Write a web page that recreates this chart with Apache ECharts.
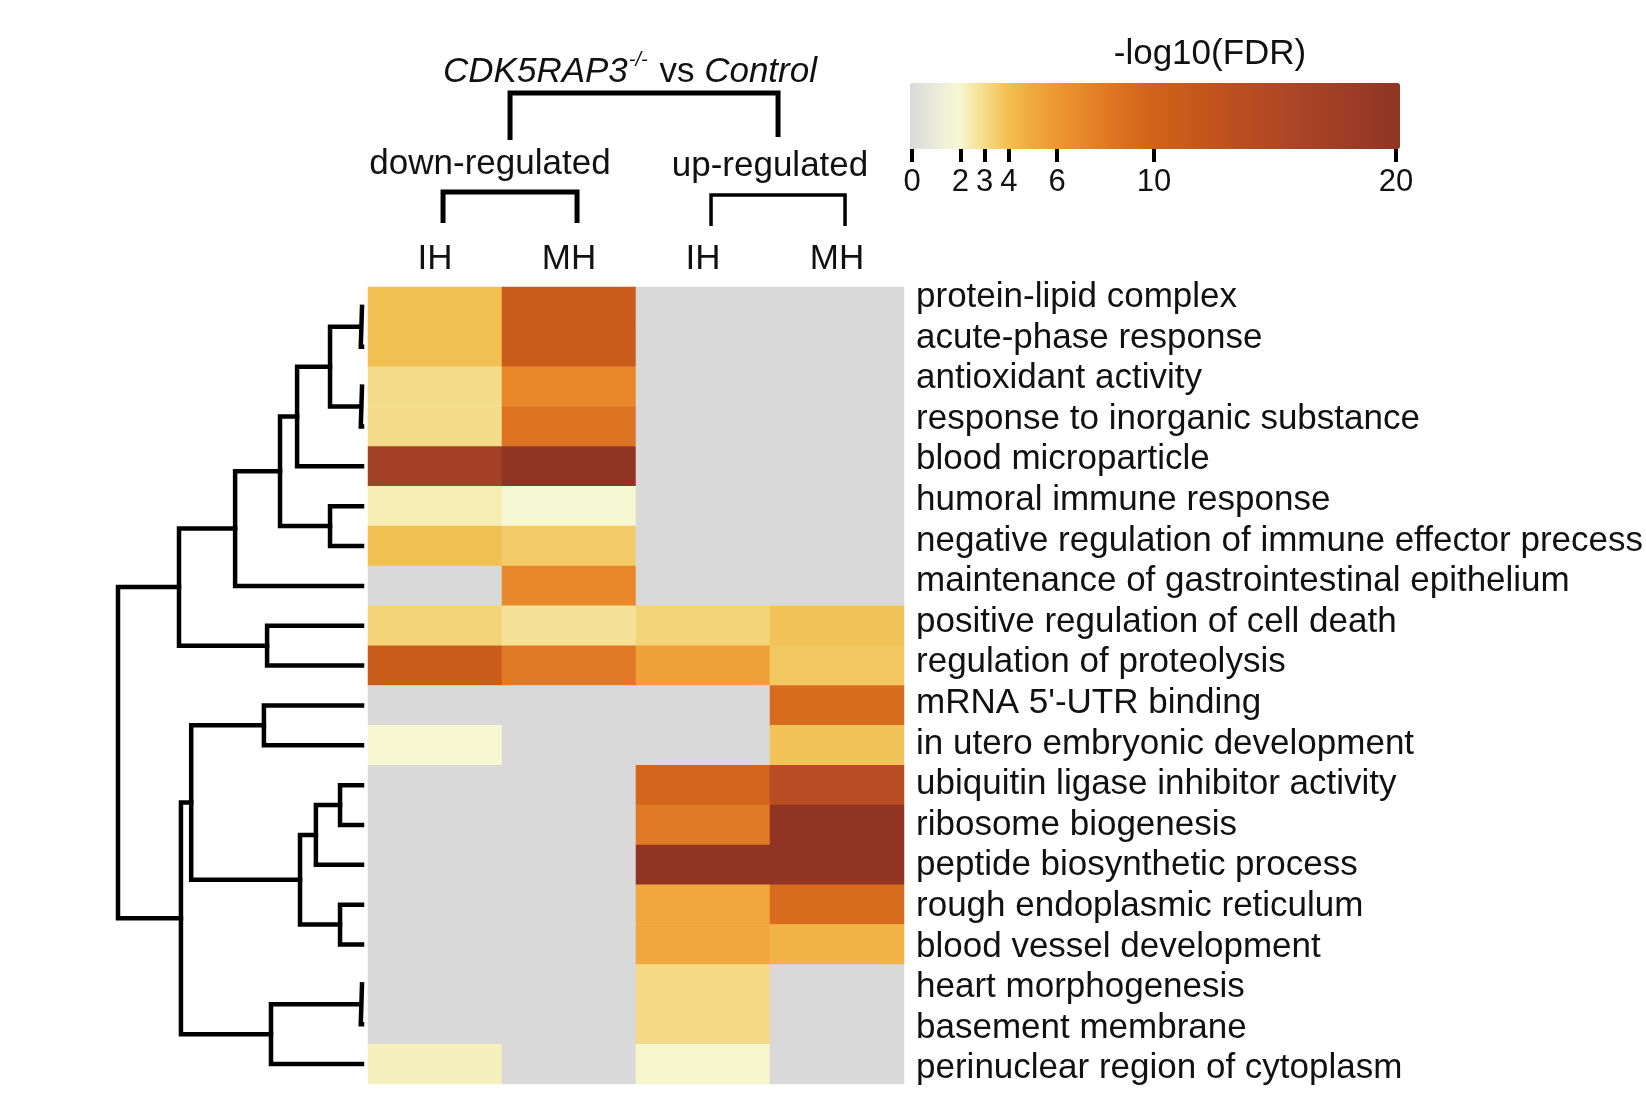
<!DOCTYPE html>
<html>
<head>
<meta charset="utf-8">
<script src="https://cdn.jsdelivr.net/npm/echarts@6/dist/echarts.min.js"></script>
<style>
html,body{margin:0;padding:0;background:#fff;}
#chart{width:1646px;height:1101px;}
</style>
</head>
<body>
<div id="chart"></div>
<script>
// ---------- data ----------
const terms = [
  'protein-lipid complex',
  'acute-phase response',
  'antioxidant activity',
  'response to inorganic substance',
  'blood microparticle',
  'humoral immune response',
  'negative regulation of immune effector precess',
  'maintenance of gastrointestinal epithelium',
  'positive regulation of cell death',
  'regulation of proteolysis',
  "mRNA 5'-UTR binding",
  'in utero embryonic development',
  'ubiquitin ligase inhibitor activity',
  'ribosome biogenesis',
  'peptide biosynthetic process',
  'rough endoplasmic reticulum',
  'blood vessel development',
  'heart morphogenesis',
  'basement membrane',
  'perinuclear region of cytoplasm'
];
const columns = ['IH', 'MH', 'IH', 'MH'];
const groups = ['down-regulated', 'up-regulated'];
const comparisonTitle = ['CDK5RAP3', '-/-', ' vs ', 'Control'];
const colorbarTitle = '-log10(FDR)';
const colorbarTicks = [0, 2, 3, 4, 6, 10, 20];

// -log10(FDR) per column (0 = not enriched)
const downIH = [4, 4, 3, 3, 17, 2.4, 4, 0, 3.3, 11, 0, 2, 0, 0, 0, 0, 0, 0, 0, 2.3];
const downMH = [11, 11, 7, 8.5, 20, 1.9, 3.6, 7, 2.8, 8, 0, 0, 0, 0, 0, 0, 0, 0, 0, 0];
const upIH   = [0, 0, 0, 0, 0, 0, 0, 0, 3.3, 5.5, 0, 0, 9.6, 8, 20, 5, 5, 3.1, 3.1, 2.1];
const upMH   = [0, 0, 0, 0, 0, 0, 0, 0, 3.9, 3.7, 9, 3.9, 14, 20, 20, 9, 4.6, 0, 0, 0];

// row dendrogram merges: children are 'rN' (row) or 'mN' (merge), h = height
const merges = [
  {a: 'r0',  b: 'r1',  h: 0.05},
  {a: 'r2',  b: 'r3',  h: 0.05},
  {a: 'm0',  b: 'm1',  h: 1.31},
  {a: 'm2',  b: 'r4',  h: 2.66},
  {a: 'r5',  b: 'r6',  h: 1.31},
  {a: 'm3',  b: 'm4',  h: 3.36},
  {a: 'm5',  b: 'r7',  h: 5.2},
  {a: 'r8',  b: 'r9',  h: 3.89},
  {a: 'm6',  b: 'm7',  h: 7.5},
  {a: 'r10', b: 'r11', h: 4.02},
  {a: 'r12', b: 'r13', h: 0.9},
  {a: 'm10', b: 'r14', h: 1.89},
  {a: 'r15', b: 'r16', h: 0.9},
  {a: 'm11', b: 'm12', h: 2.54},
  {a: 'm9',  b: 'm13', h: 7.0},
  {a: 'r17', b: 'r18', h: 0.05},
  {a: 'm15', b: 'r19', h: 3.73},
  {a: 'm14', b: 'm16', h: 7.42},
  {a: 'm8',  b: 'm17', h: 10}
];

// ---------- styles ----------
const FONT = '"Liberation Sans", Arial, Helvetica, sans-serif';
const TEXT = '#111';
const scaleColors = [
  '#d9d9d9', '#e9eadb', '#f7f8d2', '#f5dc8a', '#f2c052', '#f0a83e', '#ed9733',
  '#e8882a', '#e07a24', '#d86c1e', '#d0621a', '#ca5c1b', '#c4561d', '#bd5020',
  '#b84c22', '#b04824', '#a94426', '#a34026', '#9d3c26', '#963825', '#913423'
];

// ---------- build ----------
const cols = [downIH, downMH, upIH, upMH];
const heatData = [];
cols.forEach((arr, c) => arr.forEach((v, r) => heatData.push([c, r, v])));

function nodeInfo(id) {
  if (id[0] === 'r') return {y: +id.slice(1), h: 0};
  const m = merges[+id.slice(1)];
  const A = nodeInfo(m.a), B = nodeInfo(m.b);
  return {y: (A.y + B.y) / 2, h: m.h};
}
const dendroSeries = merges.map(m => {
  const A = nodeInfo(m.a), B = nodeInfo(m.b);
  return {
    type: 'line', xAxisIndex: 1, yAxisIndex: 1, symbol: 'none', silent: true,
    data: [[A.h, A.y], [m.h, A.y], [m.h, B.y], [B.h, B.y]],
    lineStyle: {color: '#000', width: 4.5, cap: 'square', join: 'miter'},
    z: 5
  };
});

// column brackets in column units (group centers of child columns)
const off = 0.06;
const g1 = [0 + 0.5 + off, 1 + 0.5 + off];
const g2 = [2 + 0.5 + off, 3 + 0.5 + off];
const bracketSeries = [
  {pts: [[(g1[0] + g1[1]) / 2, 140], [(g1[0] + g1[1]) / 2, 93], [(g2[0] + g2[1]) / 2, 93], [(g2[0] + g2[1]) / 2, 137]], w: 5},
  {pts: [[g1[0], 223], [g1[0], 192], [g1[1], 192], [g1[1], 223]], w: 5},
  {pts: [[g2[0], 226], [g2[0], 195], [g2[1], 195], [g2[1], 226]], w: 3.5}
].map(b => ({
  type: 'line', xAxisIndex: 3, yAxisIndex: 3, symbol: 'none', silent: true,
  data: b.pts, lineStyle: {color: '#000', width: b.w, cap: 'butt', join: 'miter'}
}));

const option = {
  backgroundColor: '#fff',
  animation: false,
  textStyle: {fontFamily: FONT},
  grid: [
    {left: 368, top: 287, width: 536, height: 797},   // heatmap
    {left: 118, top: 287, width: 244, height: 797},   // dendrogram
    {left: 912, top: 148, width: 484, height: 1},     // colorbar ticks
    {left: 368, top: 0, width: 536, height: 287},     // column brackets
    {left: 368, top: 277, width: 536, height: 812}    // row labels
  ],
  xAxis: [
    {
      gridIndex: 0, type: 'category', data: columns, position: 'top',
      axisLine: {show: false}, axisTick: {show: false}, splitLine: {show: false},
      axisLabel: {fontSize: 35, color: TEXT, margin: 10, fontFamily: FONT}
    },
    {gridIndex: 1, type: 'value', min: 0, max: 10, inverse: true, show: false},
    {
      gridIndex: 2, type: 'value', min: 0, max: 20, position: 'bottom',
      axisLine: {show: false}, splitLine: {show: false},
      axisTick: {show: true, customValues: colorbarTicks, length: 13, inside: false,
                 lineStyle: {color: '#000', width: 4}},
      axisLabel: {show: true, customValues: colorbarTicks, fontSize: 31, color: TEXT,
                  margin: 18, fontFamily: FONT}
    },
    {gridIndex: 3, type: 'value', min: 0, max: 4, show: false},
    {gridIndex: 4, type: 'value', min: 0, max: 1, show: false}
  ],
  yAxis: [
    {
      gridIndex: 0, type: 'category', data: terms, inverse: true, position: 'right',
      axisLine: {show: false}, axisTick: {show: false}, splitLine: {show: false},
      axisLabel: {show: false}
    },
    {gridIndex: 1, type: 'value', min: -0.5, max: 19.5, inverse: true, show: false},
    {gridIndex: 2, type: 'value', min: 0, max: 1, show: false},
    {gridIndex: 3, type: 'value', min: 0, max: 287, inverse: true, show: false},
    {
      gridIndex: 4, type: 'category', data: terms, inverse: true, position: 'right',
      axisLine: {show: false}, axisTick: {show: false}, splitLine: {show: false},
      axisLabel: {fontSize: 35, color: TEXT, margin: 13, interval: 0, fontFamily: FONT}
    }
  ],
  visualMap: {
    type: 'continuous', min: 0, max: 20, orient: 'horizontal',
    left: 910, top: 83, itemWidth: 66, itemHeight: 490,
    calculable: false, showLabel: false, text: ['', ''], padding: 0,
    seriesIndex: 0, inRange: {color: scaleColors}, hoverLink: false
  },
  graphic: [
    {
      type: 'text', x: 630, y: 70, silent: true,
      style: {
        text: '{i|' + comparisonTitle[0] + '}{s|' + comparisonTitle[1] + '}{n|' + comparisonTitle[2] + '}{i|' + comparisonTitle[3] + '}',
        align: 'center', verticalAlign: 'middle', fill: TEXT,
        rich: {
          i: {fontSize: 35, fontStyle: 'italic', fontFamily: FONT, fill: TEXT, lineHeight: 40, verticalAlign: 'bottom'},
          n: {fontSize: 35, fontFamily: FONT, fill: TEXT, lineHeight: 40, verticalAlign: 'bottom'},
          s: {fontSize: 20, fontStyle: 'italic', fontFamily: FONT, fill: TEXT, lineHeight: 40, verticalAlign: 'top', padding: [0, 2, 0, 1]}
        }
      }
    },
    {type: 'text', x: 490, y: 164, silent: true,
     style: {text: groups[0], font: '35px ' + FONT, fill: TEXT, align: 'center', verticalAlign: 'middle'}},
    {type: 'text', x: 770, y: 166, silent: true,
     style: {text: groups[1], font: '35px ' + FONT, fill: TEXT, align: 'center', verticalAlign: 'middle'}},
    {type: 'text', x: 1210, y: 54, silent: true,
     style: {text: colorbarTitle, font: '35px ' + FONT, fill: TEXT, align: 'center', verticalAlign: 'middle'}}
  ],
  series: [
    {
      type: 'heatmap', xAxisIndex: 0, yAxisIndex: 0, data: heatData, silent: true,
      itemStyle: {borderWidth: 0}, emphasis: {disabled: true}
    }
  ].concat(dendroSeries, bracketSeries)
};

const chart = echarts.init(document.getElementById('chart'), null, {renderer: 'canvas'});
chart.setOption(option);
</script>
</body>
</html>
